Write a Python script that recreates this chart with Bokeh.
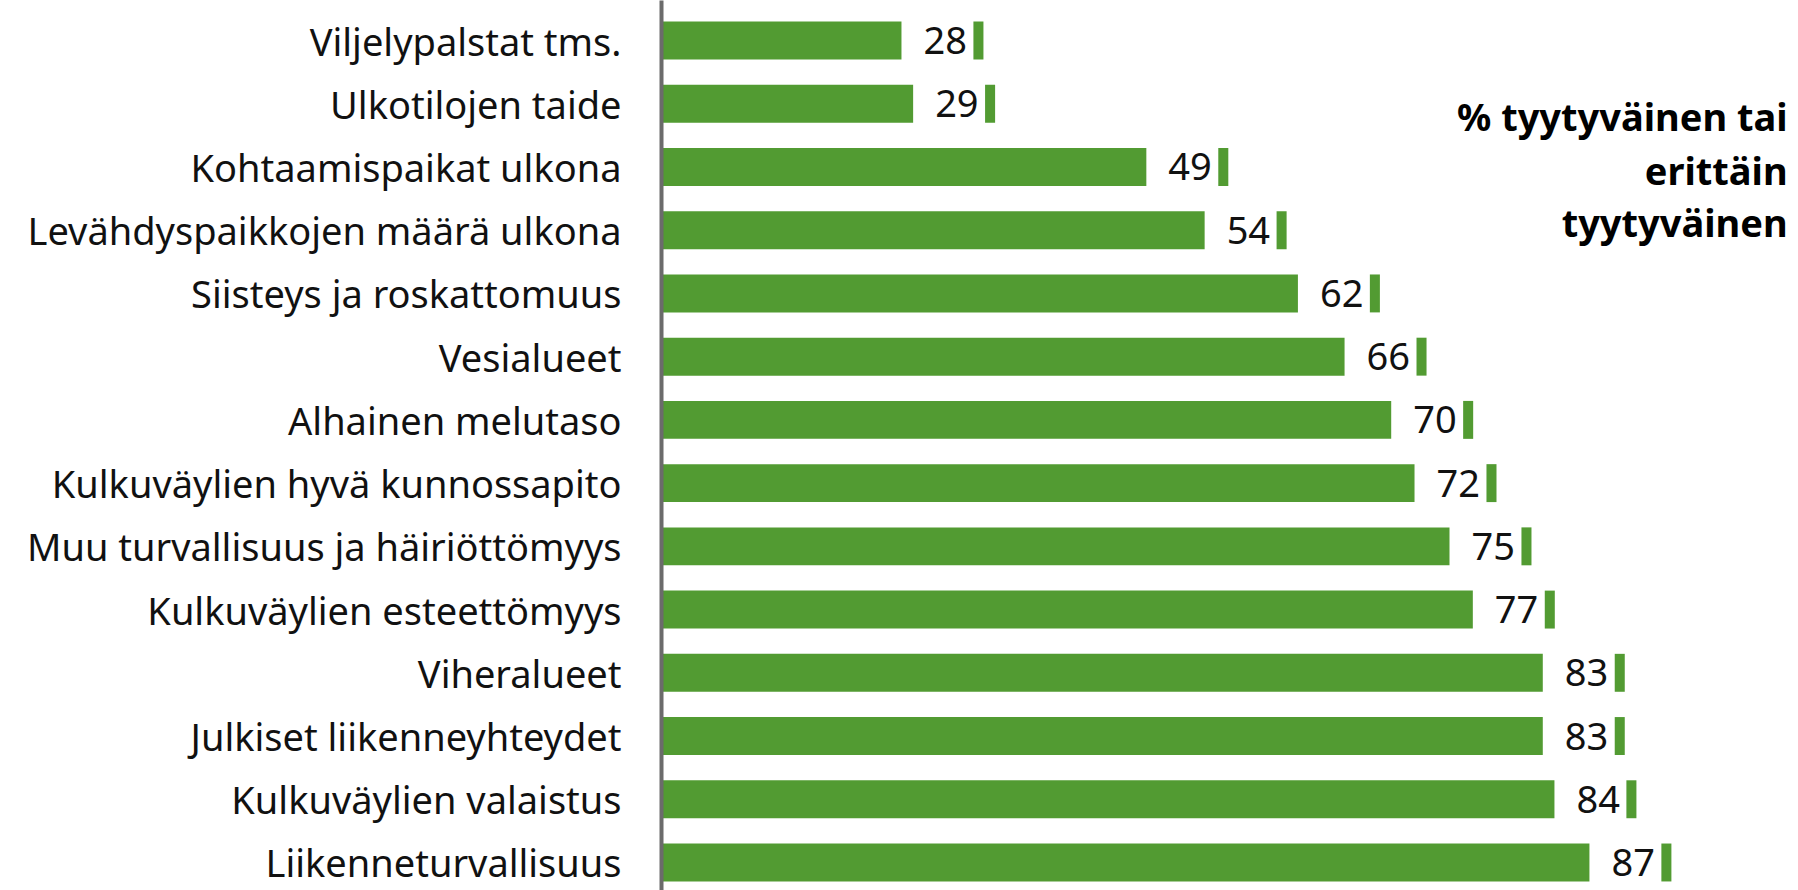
import numpy as np
from bokeh.plotting import figure
from bokeh.models import Range1d, FixedTicker, Label, ColumnDataSource
from bokeh.core.properties import value
from bokeh.embed import file_html
from bokeh.resources import INLINE

categories = [
    "Viljelypalstat tms.",
    "Ulkotilojen taide",
    "Kohtaamispaikat ulkona",
    "Levähdyspaikkojen määrä ulkona",
    "Siisteys ja roskattomuus",
    "Vesialueet",
    "Alhainen melutaso",
    "Kulkuväylien hyvä kunnossapito",
    "Muu turvallisuus ja häiriöttömyys",
    "Kulkuväylien esteettömyys",
    "Viheralueet",
    "Julkiset liikenneyhteydet",
    "Kulkuväylien valaistus",
    "Liikenneturvallisuus",
]
values = [28, 29, 49, 54, 62, 66, 70, 72, 75, 77, 83, 83, 84, 87]
title_lines = ["% tyytyväinen tai", "erittäin", "tyytyväinen"]

FONT = "Noto Sans"
GREEN = "#529B32"

idx = np.arange(len(categories))
vals = np.array(values, dtype=float)
src = ColumnDataSource(dict(
    y=idx, v=vals, lab=[str(v) for v in values],
    ml=vals + 6.17, mr=vals + 7.03,
))

p = figure(width=1798, height=890, output_backend="svg", toolbar_location=None,
           x_range=Range1d(7.42, 104.93), y_range=Range1d(13.443, -0.633),
           min_border_left=661, min_border_right=0, min_border_top=0, min_border_bottom=0)
p.outline_line_color = None
p.grid.visible = False
p.xaxis.visible = False

p.hbar(y="y", left=0, right="v", height=0.6, color=GREEN, line_color=None, source=src)
p.hbar(y="y", left="ml", right="mr", height=0.6, color=GREEN, line_color=None, source=src)
p.text(x="v", y="y", text="lab", x_offset=22, text_baseline="middle", text_align="left",
       text_font=value(FONT), text_font_size="38px", text_color="#111111", source=src)

ya = p.yaxis[0]
ya.ticker = FixedTicker(ticks=list(idx))
ya.major_label_overrides = {int(i): c for i, c in zip(idx, categories)}
ya.major_label_text_font = FONT
ya.major_label_text_font_size = "38px"
ya.major_label_text_color = "#111111"
ya.major_label_standoff = 40
ya.major_tick_line_color = None
ya.minor_tick_line_color = None
ya.major_tick_out = 0
ya.major_tick_in = 0
ya.axis_line_color = "#6b6b6b"
ya.axis_line_width = 4

for ly, t in zip([1.186, 2.04, 2.863], title_lines):
    p.add_layout(Label(x=104.0, y=ly, text=t, text_align="right", text_baseline="middle",
                       text_font=FONT, text_font_size="38px", text_font_style="bold",
                       text_color="#000000"))

open("out.html", "w").write(file_html(p, INLINE))
